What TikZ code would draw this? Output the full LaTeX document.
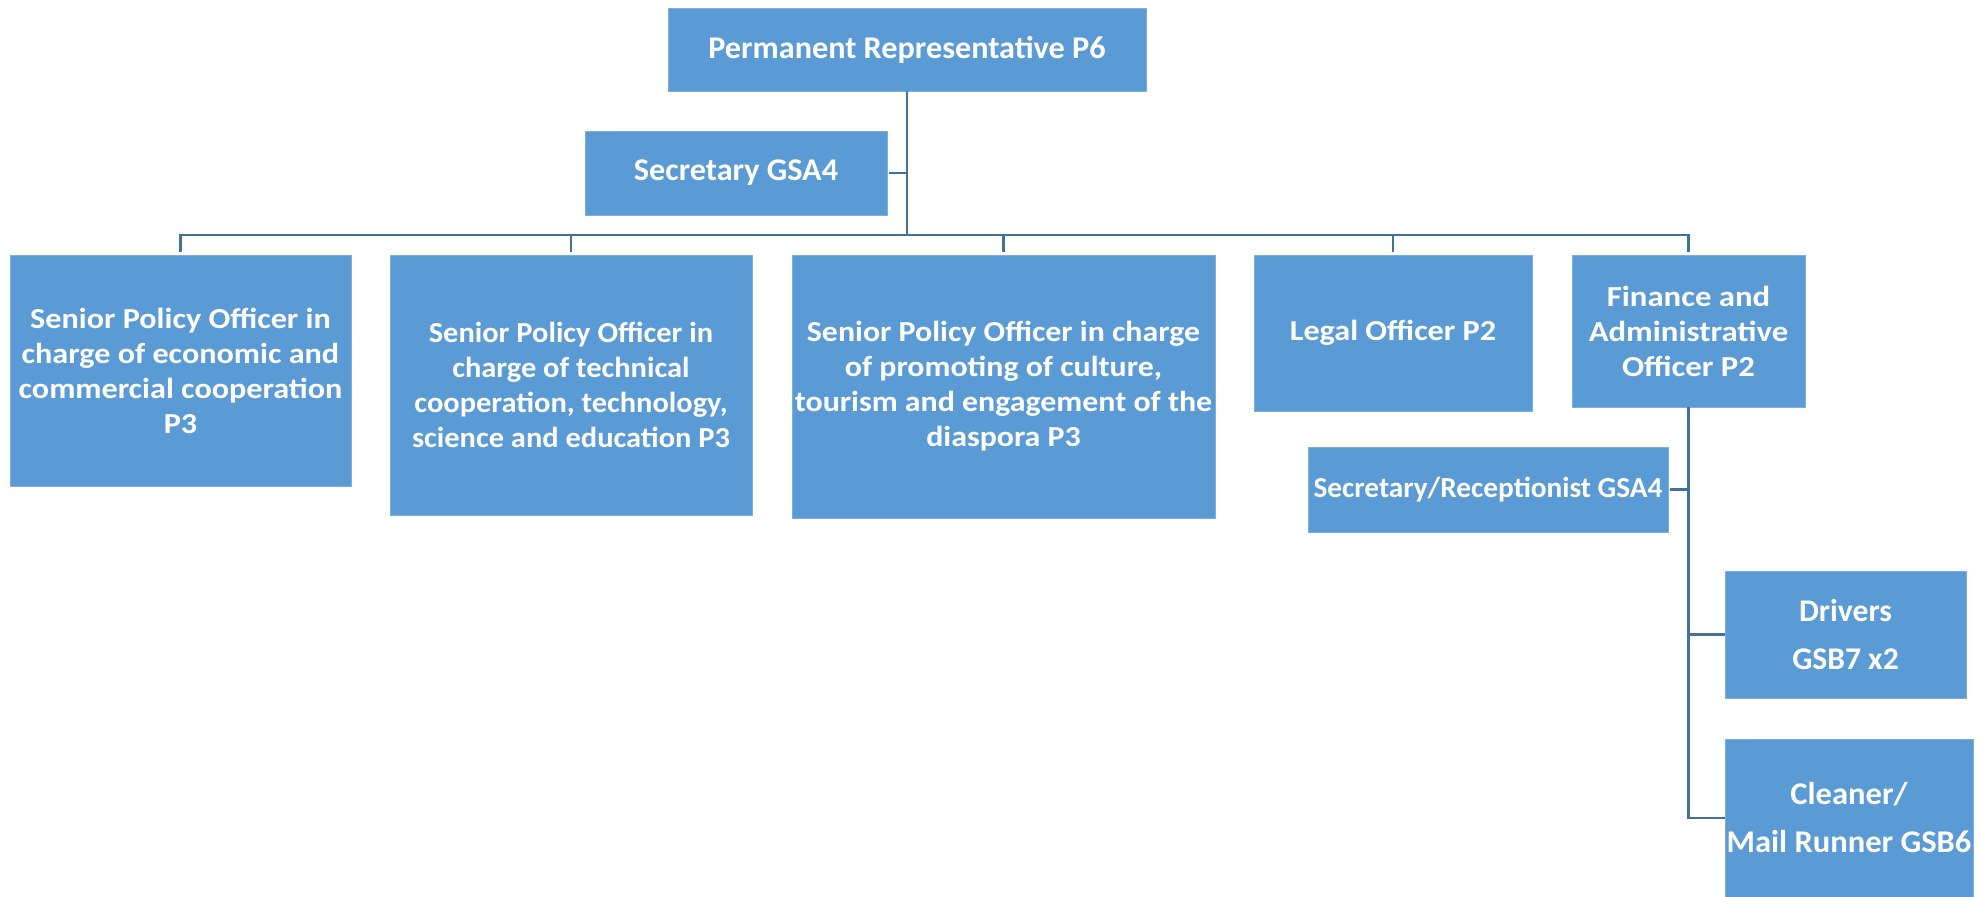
\documentclass[tikz,border=0pt]{standalone}
\usepackage{fontspec}
\setmainfont{Carlito}
\definecolor{boxblue}{HTML}{5B9BD5}
\definecolor{linkblue}{HTML}{41719C}
\begin{document}
\begin{tikzpicture}[x=0.5pt,y=-0.5pt,
  box/.style={fill=boxblue, draw=boxblue!80!white, line width=0.4pt, text=white, align=center, inner sep=0pt},
  smallfont/.style={font=\bfseries\fontsize{14.5}{17.5}\selectfont\addfontfeature{FakeStretch=#1}},
  bigfont/.style={font=\bfseries\fontsize{15.8}{19}\selectfont\addfontfeature{FakeStretch=#1}},
  link/.style={draw=linkblue, line width=1.4pt}]
\useasboundingbox (0,0) rectangle (1981,897);
% boxes
\node[box,bigfont=1.02,minimum width=239pt,minimum height=41.5pt] (pr) at (907,49.5) {Permanent Representative P6};
\node[box,bigfont=1.02,minimum width=151pt,minimum height=42pt] (sec) at (736,173) {Secretary GSA4};
\node[box,smallfont=1.11,minimum width=170.5pt,minimum height=115.5pt] (b1) at (180.5,370.5) {Senior Policy Officer in\\charge of economic and\\commercial cooperation\\P3};
\node[box,smallfont=1.05,minimum width=181pt,minimum height=130pt] (b2) at (571,385) {Senior Policy Officer in\\charge of technical\\cooperation, technology,\\science and education P3};
\node[box,smallfont=1.10,minimum width=211.5pt,minimum height=131.5pt] (b3) at (1003.5,386.5) {Senior Policy Officer in charge\\of promoting of culture,\\tourism and engagement of the\\diaspora P3};
\node[box,smallfont=1.11,minimum width=139pt,minimum height=78pt] (legal) at (1393,333) {Legal Officer P2};
\node[box,smallfont=1.13,minimum width=116.5pt,minimum height=76pt] (fin) at (1688.5,331) {Finance and\\Administrative\\Officer P2};
\node[box,smallfont=1.01,minimum width=180pt,minimum height=42.5pt] (secrec) at (1488,489.5) {Secretary/Receptionist GSA4};
\node[box,bigfont=1.0,minimum width=120.5pt,minimum height=63.5pt] (drv) at (1845.5,634.5) {Drivers\\[5pt]GSB7 x2};
\node[box,bigfont=1.03,minimum width=124pt,minimum height=79pt] (cln) at (1849,818) {Cleaner/\\[5pt]Mail Runner GSB6};
% connectors
\coordinate (j) at (907,235);
\draw[link] (pr.south) -- (j);
\draw[link,shorten <=1pt] (sec.east) -- (sec.east -| j);
\foreach \c in {b1,b2,b3,legal,fin}{
  \draw[link,shorten >=1.5pt] (j) -| (\c.north);
}
\draw[link,shorten <=1pt] (secrec.east) -| (fin.south);
\draw[link] (fin.south) |- (drv.west);
\draw[link] (fin.south) |- (cln.west);
\end{tikzpicture}
\end{document}
